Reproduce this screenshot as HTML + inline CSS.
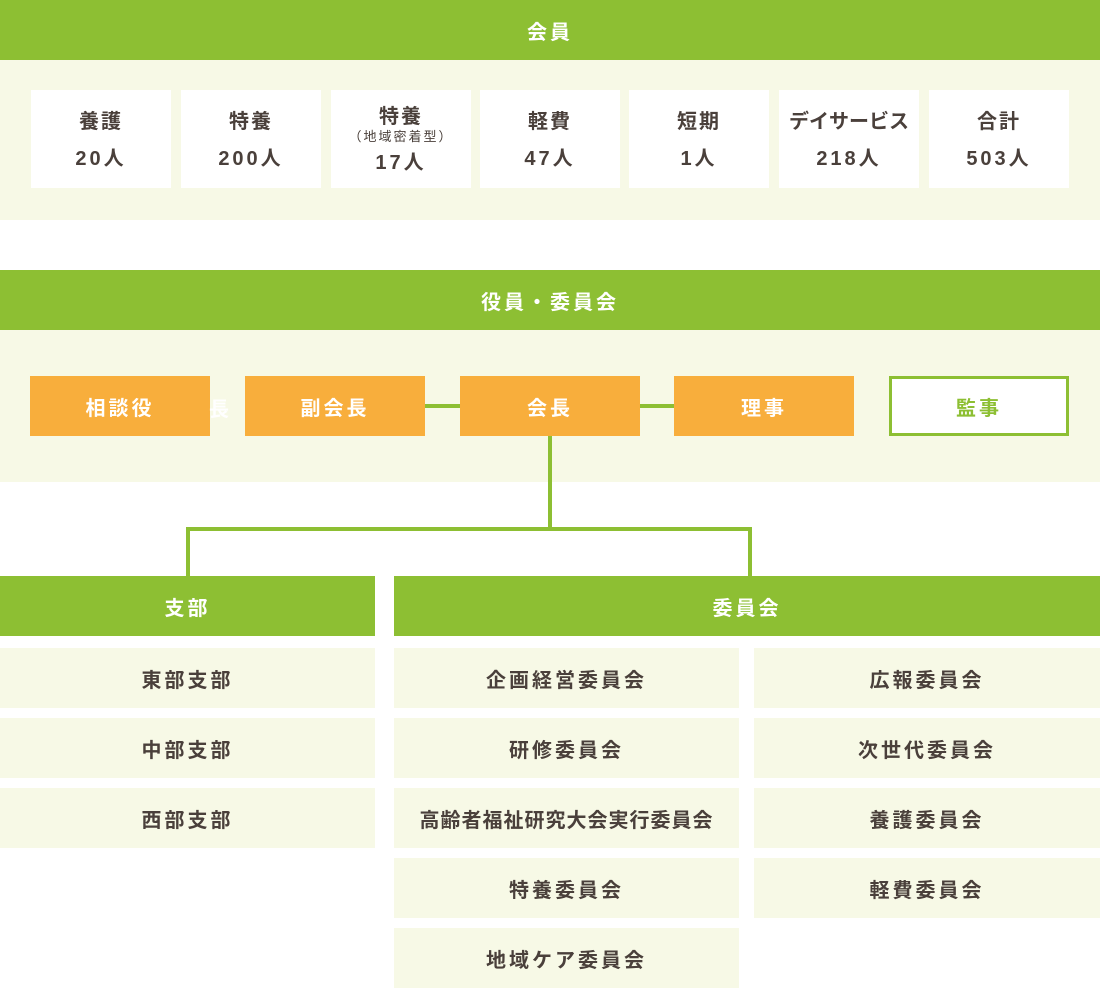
<!DOCTYPE html>
<html><head><meta charset="utf-8"><style>
*{margin:0;padding:0;box-sizing:border-box}
body{width:1100px;height:988px;background:#fff;position:relative;overflow:hidden;font-family:"Liberation Sans","Noto Sans CJK JP",sans-serif;font-weight:bold}
.a{position:absolute}
.g{background:#8dbf33;color:#fff;font-size:20px;letter-spacing:3px;display:flex;align-items:center;justify-content:center}
.l{background:#f7f9e6}
.w{background:#fff;color:#4a403b;text-align:center}
.o{background:#f8ae3c;color:#fff;font-size:20px;letter-spacing:3px;display:flex;align-items:center;justify-content:center}
.i{background:#f7f9e6;color:#4a403b;font-size:20px;letter-spacing:3px;display:flex;align-items:center;justify-content:center}
.ln{background:#8dbf33}
.t1{position:absolute;left:0;right:0;top:15px;font-size:20px;letter-spacing:2px}
.t2{position:absolute;left:0;right:0;top:52px;font-size:20px;letter-spacing:3px}
</style></head><body>
<div class="a g" style="left:0;top:0;width:1100px;height:60px">会員</div>
<div class="a l" style="left:0;top:60px;width:1100px;height:160px"></div>
<div class="a w" style="left:31px;top:90px;width:140px;height:98px"><div class="t1">養護</div><div class="t2">20人</div></div>
<div class="a w" style="left:181px;top:90px;width:140px;height:98px"><div class="t1">特養</div><div class="t2">200人</div></div>
<div class="a w" style="left:331px;top:90px;width:140px;height:98px"><div class="t1" style="top:10px">特養</div><div style="position:absolute;left:0;right:0;top:36px;font-size:13px;font-weight:normal;letter-spacing:2px">（地域密着型）</div><div class="t2" style="top:56px">17人</div></div>
<div class="a w" style="left:480px;top:90px;width:140px;height:98px"><div class="t1">軽費</div><div class="t2">47人</div></div>
<div class="a w" style="left:629px;top:90px;width:140px;height:98px"><div class="t1">短期</div><div class="t2">1人</div></div>
<div class="a w" style="left:779px;top:90px;width:140px;height:98px"><div class="t1" style="letter-spacing:0">デイサービス</div><div class="t2">218人</div></div>
<div class="a w" style="left:929px;top:90px;width:140px;height:98px"><div class="t1">合計</div><div class="t2">503人</div></div>

<div class="a g" style="left:0;top:270px;width:1100px;height:60px">役員・委員会</div>
<div class="a l" style="left:0;top:330px;width:1100px;height:152px"></div>
<div class="a ln" style="left:425px;top:404px;width:35px;height:4px"></div>
<div class="a ln" style="left:640px;top:404px;width:34px;height:4px"></div>
<div class="a o" style="left:30px;top:376px;width:180px;height:60px">相談役</div>
<div class="a" style="left:209px;top:393px;color:#fff;font-size:20px">長</div>
<div class="a o" style="left:245px;top:376px;width:180px;height:60px">副会長</div>
<div class="a o" style="left:460px;top:376px;width:180px;height:60px">会長</div>
<div class="a o" style="left:674px;top:376px;width:180px;height:60px">理事</div>
<div class="a" style="left:889px;top:376px;width:180px;height:60px;background:#fff;border:3px solid #8dbf33;color:#8dbf33;font-size:20px;letter-spacing:3px;display:flex;align-items:center;justify-content:center">監事</div>
<div class="a ln" style="left:548px;top:436px;width:4px;height:94px"></div>
<div class="a ln" style="left:186px;top:527px;width:566px;height:4px"></div>
<div class="a ln" style="left:186px;top:527px;width:4px;height:50px"></div>
<div class="a ln" style="left:748px;top:527px;width:4px;height:50px"></div>

<div class="a g" style="left:0;top:576px;width:375px;height:60px">支部</div>
<div class="a g" style="left:394px;top:576px;width:706px;height:60px">委員会</div>
<div class="a i" style="left:0;top:648px;width:375px;height:60px">東部支部</div>
<div class="a i" style="left:0;top:718px;width:375px;height:60px">中部支部</div>
<div class="a i" style="left:0;top:788px;width:375px;height:60px">西部支部</div>
<div class="a i" style="left:394px;top:648px;width:345px;height:60px">企画経営委員会</div>
<div class="a i" style="left:394px;top:718px;width:345px;height:60px">研修委員会</div>
<div class="a i" style="left:394px;top:788px;width:345px;height:60px;letter-spacing:1px">高齢者福祉研究大会実行委員会</div>
<div class="a i" style="left:394px;top:858px;width:345px;height:60px">特養委員会</div>
<div class="a i" style="left:394px;top:928px;width:345px;height:60px">地域ケア委員会</div>
<div class="a i" style="left:754px;top:648px;width:346px;height:60px">広報委員会</div>
<div class="a i" style="left:754px;top:718px;width:346px;height:60px">次世代委員会</div>
<div class="a i" style="left:754px;top:788px;width:346px;height:60px">養護委員会</div>
<div class="a i" style="left:754px;top:858px;width:346px;height:60px">軽費委員会</div>
</body></html>
